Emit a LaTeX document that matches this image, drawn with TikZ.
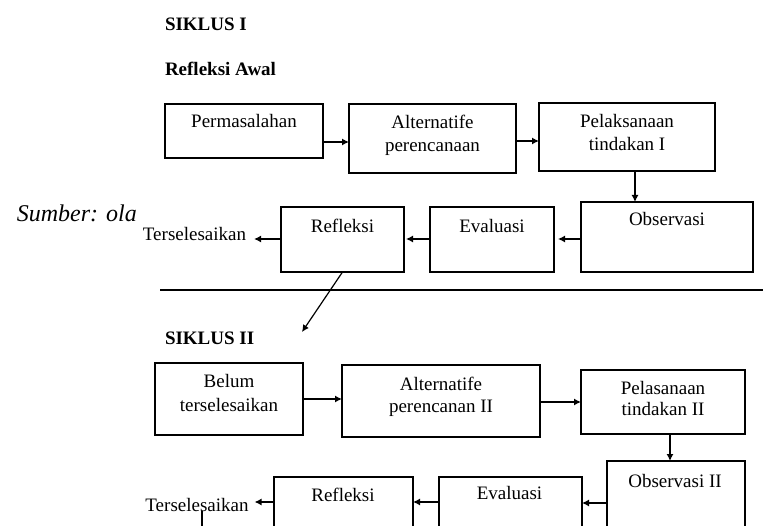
\documentclass[tikz,border=0pt]{standalone}
\usepackage{fontspec}
\setmainfont{Liberation Serif}
\usetikzlibrary{arrows.meta}
\begin{document}
\begin{tikzpicture}[x=1pt,y=-1pt,
  bx/.style={draw, line width=1.3pt, rectangle, inner sep=0pt, outer sep=0pt},
  txt/.style={inner sep=0pt, outer sep=0pt, anchor=base, font=\fontsize{19}{23}\selectfont},
  ttl/.style={inner sep=0pt, outer sep=0pt, anchor=base west, font=\fontsize{19}{23}\selectfont\bfseries},
  arr/.style={line width=1.2pt, -{Latex[length=7pt,width=7pt]}},
  ln/.style={line width=1.2pt}]
\useasboundingbox (0,0) rectangle (763,526);
\clip (0,0) rectangle (763,526);

% source note
\node[inner sep=0pt, anchor=base east, font=\fontsize{24}{28}\selectfont\itshape] (src) at (137,222) {Sumber: ola};

% titles
\node[ttl] (t1) at (165,31) {SIKLUS I};
\node[ttl] (t2) at (165,76) {Refleksi Awal};
\node[ttl] (t3) at (165,345) {SIKLUS II};

% cycle I boxes
\node[bx, minimum width=158pt, minimum height=54pt] (perm) at (244,131) {};
\node[bx, minimum width=167pt, minimum height=69pt] (alt1) at (432.5,138.5) {};
\node[bx, minimum width=176pt, minimum height=68pt] (pel1) at (627,137) {};
\node[bx, minimum width=172pt, minimum height=70pt] (obs1) at (667,237) {};
\node[bx, minimum width=124pt, minimum height=65pt] (eva1) at (492,239.5) {};
\node[bx, minimum width=123pt, minimum height=65pt] (ref1) at (342.5,239.5) {};

\node[txt] (perm-t) at (244,128) {Permasalahan};
\node[txt] (alt1-a) at (432.5,129) {Alternatife};
\node[txt] (alt1-b) at (432.5,152) {perencanaan};
\node[txt] (pel1-a) at (627,128) {Pelaksanaan};
\node[txt] (pel1-b) at (627,151) {tindakan I};
\node[txt] (obs1-t) at (667,226) {Observasi};
\node[txt] (eva1-t) at (492,233) {Evaluasi};
\node[txt] (ref1-t) at (342.5,233) {Refleksi};
\node[txt] (ters1) at (194.5,241) {Terselesaikan};

% cycle I arrows
\draw[arr] (perm.east |- 0,142) -- (alt1.west |- 0,142);
\draw[arr] (alt1.east |- 0,141) -- (pel1.west |- 0,141);
\draw[arr] (pel1.south -| 635,0) -- (obs1.north -| 635,0);
\draw[arr, shorten >=4pt] (obs1.west |- 0,239) -- (eva1.east |- 0,239);
\draw[arr, shorten >=2pt] (eva1.west |- 0,239) -- (ref1.east |- 0,239);
\draw[arr, shorten >=8pt] (ref1.west |- 0,239) -- (ters1.east |- 0,239);

% separator and transition
\coordinate (hl1) at (160,290);
\coordinate (hl2) at (770,290);
\draw[ln] (hl1) -- (hl2);
\coordinate (c2) at (302,332);
\draw[arr] (ref1.south) -- (c2);

% cycle II boxes
\node[bx, minimum width=148pt, minimum height=72pt] (belum) at (229,399) {};
\node[bx, minimum width=198pt, minimum height=72pt] (alt2) at (441,401) {};
\node[bx, minimum width=164pt, minimum height=64pt] (pel2) at (663,402) {};
\node[bx, minimum width=138pt, minimum height=99pt] (obs2) at (676,510.5) {};
\node[bx, minimum width=143pt, minimum height=83pt] (eva2) at (510.5,518.5) {};
\node[bx, minimum width=139pt, minimum height=83pt] (ref2) at (343.5,518.5) {};

\node[txt] (belum-a) at (229,388) {Belum};
\node[txt] (belum-b) at (229,412) {terselesaikan};
\node[txt] (alt2-a) at (441,391) {Alternatife};
\node[txt] (alt2-b) at (441,413) {perencanan II};
\node[txt] (pel2-a) at (663,395) {Pelasanaan};
\node[txt] (pel2-b) at (663,416) {tindakan II};
\node[txt] (obs2-t) at (675,487) {Observasi II};
\node[txt] (eva2-t) at (509.5,499) {Evaluasi};
\node[txt] (ref2-t) at (343,501) {Refleksi};
\node[txt] (ters2) at (197,511) {Terselesaikan};

% cycle II arrows
\draw[arr] (belum.east |- 0,399) -- (alt2.west |- 0,399);
\draw[arr] (alt2.east |- 0,402) -- (pel2.west |- 0,402);
\draw[arr] (pel2.south -| 670,0) -- (obs2.north -| 670,0);
\draw[arr] (obs2.west |- 0,503) -- (eva2.east |- 0,503);
\draw[arr] (eva2.west |- 0,502) -- (ref2.east |- 0,502);
\draw[arr, shorten >=6pt] (ref2.west |- 0,502) -- (ters2.east |- 0,502);
\coordinate (vl) at (202,540);
\draw[ln] (ters2.south -| 202,0) -- (vl);
\end{tikzpicture}
\end{document}
